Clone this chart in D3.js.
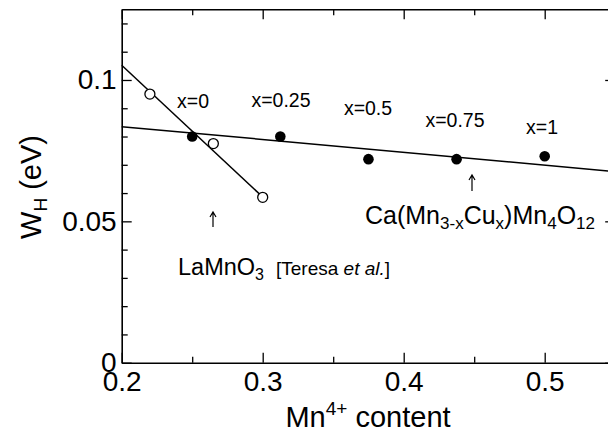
<!DOCTYPE html>
<html>
<head>
<meta charset="utf-8">
<script src="https://cdn.jsdelivr.net/npm/d3@7"></script>
<style>
  html, body { margin: 0; padding: 0; background: #fff; }
  svg { display: block; }
  text { font-family: "Liberation Sans", Arial, Helvetica, sans-serif; fill: #000; }
</style>
</head>
<body>
<svg id="chart" width="608" height="435"></svg>
<script>
// Mn4+ content vs small-polaron hopping energy W_H
const cacuMn4 = [0.25, 0.3125, 0.375, 0.4375, 0.5];      // Ca(Mn3-xCux)Mn4O12
const cacuWH  = [0.080, 0.080, 0.072, 0.072, 0.073];
const cacuLabels = ["x=0", "x=0.25", "x=0.5", "x=0.75", "x=1"];
const lamnMn4 = [0.22, 0.265, 0.30];                       // LaMnO3 [Teresa et al.]
const lamnWH  = [0.095, 0.0775, 0.0585];

// linear fits drawn across the plot
const fitLaMn = [[0.2, 0.1052], [0.30, 0.0586]];
const fitCaCu = [[0.2, 0.0835], [0.55, 0.0676]];

const xMajor = [0.2, 0.3, 0.4, 0.5];
const xMajorLabels = ["0.2", "0.3", "0.4", "0.5"];
const xMinor = [0.25, 0.35, 0.45, 0.55];
const yMajor = [0, 0.05, 0.1];
const yMajorLabels = ["0", "0.05", "0.1"];
const yMinor = [0.01, 0.02, 0.03, 0.04, 0.06, 0.07, 0.08, 0.09, 0.11, 0.12];

const svg = d3.select("#chart");
const x = d3.scaleLinear().domain([0.2, 0.55]).range([121.7, 615.2]);
const y = d3.scaleLinear().domain([0, 0.125]).range([362.7, 9.3]);

const axisStyle = g => {
  g.selectAll("path.domain").attr("stroke", "#000").attr("stroke-width", 1.6);
  g.selectAll(".tick line").attr("stroke", "#000").attr("stroke-width", 1.3);
};

// bottom axis with labels
const bottom = svg.append("g").attr("transform", `translate(0,${y(0)})`)
  .call(d3.axisBottom(x).tickValues(xMajor).tickSize(-10).tickSizeOuter(0)
    .tickFormat((d, i) => xMajorLabels[i]).tickPadding(8));
bottom.selectAll("text").attr("font-size", 28).attr("dy", "0.71em")
  .attr("font-family", "Liberation Sans, Arial, sans-serif");
bottom.call(axisStyle);
svg.append("g").attr("transform", `translate(0,${y(0)})`)
  .call(d3.axisBottom(x).tickValues(xMinor).tickSize(-6).tickSizeOuter(0).tickFormat(""))
  .call(axisStyle).select("path.domain").remove();

// top axis
svg.append("g").attr("transform", `translate(0,${y(0.125)})`)
  .call(d3.axisTop(x).tickValues(xMajor).tickSize(-10).tickSizeOuter(0).tickFormat(""))
  .call(axisStyle);
svg.append("g").attr("transform", `translate(0,${y(0.125)})`)
  .call(d3.axisTop(x).tickValues(xMinor).tickSize(-6).tickSizeOuter(0).tickFormat(""))
  .call(axisStyle).select("path.domain").remove();

// left axis with labels
const left = svg.append("g").attr("transform", `translate(${x(0.2)},0)`)
  .call(d3.axisLeft(y).tickValues(yMajor).tickSize(-10).tickSizeOuter(0)
    .tickFormat((d, i) => yMajorLabels[i]).tickPadding(5));
left.selectAll("text").attr("font-size", 28)
  .attr("font-family", "Liberation Sans, Arial, sans-serif");
left.call(axisStyle);
svg.append("g").attr("transform", `translate(${x(0.2)},0)`)
  .call(d3.axisLeft(y).tickValues(yMinor).tickSize(-6).tickSizeOuter(0).tickFormat(""))
  .call(axisStyle).select("path.domain").remove();

// right axis
svg.append("g").attr("transform", `translate(${x(0.55)},0)`)
  .call(d3.axisRight(y).tickValues(yMajor).tickSize(-10).tickSizeOuter(0).tickFormat(""))
  .call(axisStyle);
svg.append("g").attr("transform", `translate(${x(0.55)},0)`)
  .call(d3.axisRight(y).tickValues(yMinor).tickSize(-6).tickSizeOuter(0).tickFormat(""))
  .call(axisStyle).select("path.domain").remove();

// axis titles
const xt = svg.append("text").attr("x", 368).attr("y", 427)
  .attr("text-anchor", "middle").attr("font-size", 29);
xt.append("tspan").text("Mn");
xt.append("tspan").attr("dy", -12).attr("font-size", 19).text("4+");
xt.append("tspan").attr("dy", 12).text(" content");

const yt = svg.append("text").attr("transform", "translate(41,187) rotate(-90)")
  .attr("text-anchor", "middle").attr("font-size", 29);
yt.append("tspan").text("W");
yt.append("tspan").attr("dy", 6).attr("font-size", 19).text("H");
yt.append("tspan").attr("dy", -6).text(" (eV)");

// fit lines
const line = d3.line().x(d => x(d[0])).y(d => y(d[1]));
[fitLaMn, fitCaCu].forEach(f => {
  svg.append("path").attr("d", line(f)).attr("fill", "none")
    .attr("stroke", "#000").attr("stroke-width", 1.5);
});

// LaMnO3: open circles
svg.selectAll("circle.la").data(lamnMn4).join("circle").attr("class", "la")
  .attr("cx", d => x(d)).attr("cy", (d, i) => y(lamnWH[i])).attr("r", 5)
  .attr("fill", "#fff").attr("stroke", "#000").attr("stroke-width", 1.3);

// Ca(Mn3-xCux)Mn4O12: filled circles
svg.selectAll("circle.ca").data(cacuMn4).join("circle").attr("class", "ca")
  .attr("cx", d => x(d)).attr("cy", (d, i) => y(cacuWH[i])).attr("r", 5.3)
  .attr("fill", "#000");

// composition labels
const labelPos = [[193, 108], [281, 107], [368, 115], [455, 127], [542, 134]];
svg.selectAll("text.xl").data(cacuLabels).join("text").attr("class", "xl")
  .attr("x", (d, i) => labelPos[i][0]).attr("y", (d, i) => labelPos[i][1])
  .attr("text-anchor", "middle").attr("font-size", 19.5).text(d => d);

// arrows
const arrow = (cx, y0, y1) => {
  svg.append("path").attr("d", `M${cx},${y1}V${y0}M${cx - 3},${y0 + 5}L${cx},${y0}L${cx + 3},${y0 + 5}`)
    .attr("fill", "none").attr("stroke", "#000").attr("stroke-width", 1.2);
};
arrow(213, 212, 227);
arrow(472, 175, 191);

// compound labels
const la = svg.append("text").attr("x", 178).attr("y", 275).attr("font-size", 23.5);
la.append("tspan").text("LaMnO");
la.append("tspan").attr("dy", 5).attr("font-size", 16).text("3");
la.append("tspan").attr("dy", -5).attr("dx", 12).attr("font-size", 19).text("[Teresa ");
la.append("tspan").attr("font-size", 19).attr("font-style", "italic").text("et al.");
la.append("tspan").attr("font-size", 19).text("]");

const ca = svg.append("text").attr("x", 365).attr("y", 224).attr("font-size", 25);
ca.append("tspan").text("Ca(Mn");
ca.append("tspan").attr("dy", 5).attr("font-size", 17).text("3-x");
ca.append("tspan").attr("dy", -5).text("Cu");
ca.append("tspan").attr("dy", 5).attr("font-size", 17).text("x");
ca.append("tspan").attr("dy", -5).text(")Mn");
ca.append("tspan").attr("dy", 5).attr("font-size", 17).text("4");
ca.append("tspan").attr("dy", -5).text("O");
ca.append("tspan").attr("dy", 5).attr("font-size", 17).text("12");
</script>
</body>
</html>
